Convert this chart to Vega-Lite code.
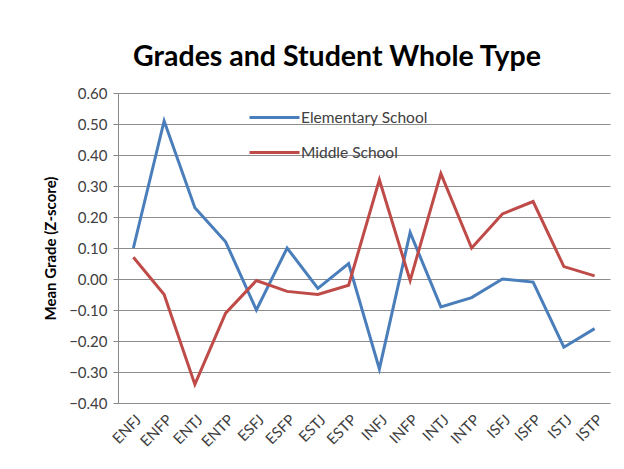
{
  "$schema": "https://vega.github.io/schema/vega-lite/v6.json",
  "width": 492,
  "height": 310,
  "autosize": {"type": "none"},
  "padding": {"left": 118, "top": 93, "right": 14, "bottom": 66},
  "background": "white",
  "title": {
    "text": "Grades and Student Whole Type",
    "font": "Lato",
    "fontSize": 28.5,
    "fontWeight": "bold",
    "color": "#000000",
    "anchor": "middle",
    "offset": 15,
    "dx": -27
  },
  "data": {
    "values": [
      {"type": "ENFJ", "school": "Elementary School", "grade": 0.10},
      {"type": "ENFP", "school": "Elementary School", "grade": 0.51},
      {"type": "ENTJ", "school": "Elementary School", "grade": 0.23},
      {"type": "ENTP", "school": "Elementary School", "grade": 0.12},
      {"type": "ESFJ", "school": "Elementary School", "grade": -0.10},
      {"type": "ESFP", "school": "Elementary School", "grade": 0.10},
      {"type": "ESTJ", "school": "Elementary School", "grade": -0.03},
      {"type": "ESTP", "school": "Elementary School", "grade": 0.05},
      {"type": "INFJ", "school": "Elementary School", "grade": -0.29},
      {"type": "INFP", "school": "Elementary School", "grade": 0.15},
      {"type": "INTJ", "school": "Elementary School", "grade": -0.09},
      {"type": "INTP", "school": "Elementary School", "grade": -0.06},
      {"type": "ISFJ", "school": "Elementary School", "grade": 0.00},
      {"type": "ISFP", "school": "Elementary School", "grade": -0.01},
      {"type": "ISTJ", "school": "Elementary School", "grade": -0.22},
      {"type": "ISTP", "school": "Elementary School", "grade": -0.16},
      {"type": "ENFJ", "school": "Middle School", "grade": 0.07},
      {"type": "ENFP", "school": "Middle School", "grade": -0.05},
      {"type": "ENTJ", "school": "Middle School", "grade": -0.34},
      {"type": "ENTP", "school": "Middle School", "grade": -0.11},
      {"type": "ESFJ", "school": "Middle School", "grade": -0.005},
      {"type": "ESFP", "school": "Middle School", "grade": -0.04},
      {"type": "ESTJ", "school": "Middle School", "grade": -0.05},
      {"type": "ESTP", "school": "Middle School", "grade": -0.02},
      {"type": "INFJ", "school": "Middle School", "grade": 0.32},
      {"type": "INFP", "school": "Middle School", "grade": -0.005},
      {"type": "INTJ", "school": "Middle School", "grade": 0.34},
      {"type": "INTP", "school": "Middle School", "grade": 0.10},
      {"type": "ISFJ", "school": "Middle School", "grade": 0.21},
      {"type": "ISFP", "school": "Middle School", "grade": 0.25},
      {"type": "ISTJ", "school": "Middle School", "grade": 0.04},
      {"type": "ISTP", "school": "Middle School", "grade": 0.01}
    ]
  },
  "mark": {"type": "line", "strokeWidth": 3, "strokeJoin": "miter"},
  "encoding": {
    "x": {
      "field": "type",
      "type": "nominal",
      "sort": null,
      "scale": {"paddingOuter": 0.5, "paddingInner": 0},
      "axis": {
        "title": null,
        "labelAngle": -45,
        "labelAlign": "right",
        "labelBaseline": "top",
        "labelFont": "Lato",
        "labelFontSize": 15,
        "labelColor": "#404040",
        "ticks": false,
        "domain": false,
        "labelPadding": 9,
        "grid": false
      }
    },
    "y": {
      "field": "grade",
      "type": "quantitative",
      "scale": {"domain": [-0.4, 0.6], "nice": false, "zero": false},
      "axis": {
        "title": "Mean Grade (Z-score)",
        "titleFont": "Lato",
        "titleFontSize": 15,
        "titleFontWeight": "bold",
        "titleColor": "#000000",
        "titlePadding": 10,
        "values": [-0.4, -0.3, -0.2, -0.1, 0, 0.1, 0.2, 0.3, 0.4, 0.5, 0.6],
        "format": ".2f",
        "labelFont": "Lato",
        "labelFontSize": 15,
        "labelColor": "#404040",
        "labelPadding": 6,
        "tickSize": 5,
        "tickColor": "#888888",
        "domainColor": "#888888",
        "gridColor": "#8c8c8c",
        "gridWidth": 1
      }
    },
    "color": {
      "field": "school",
      "type": "nominal",
      "scale": {"domain": ["Elementary School", "Middle School"], "range": ["#4A7EBB", "#BE4B48"]},
      "legend": {
        "title": null,
        "orient": "none",
        "legendX": 130,
        "legendY": -2,
        "symbolType": "stroke",
        "symbolSize": 2500,
        "symbolStrokeWidth": 3,
        "labelFont": "Lato",
        "labelFontSize": 15.5,
        "labelColor": "#404040",
        "labelOffset": 0,
        "rowPadding": -6
      }
    }
  },
  "config": {"view": {"stroke": null}}
}
